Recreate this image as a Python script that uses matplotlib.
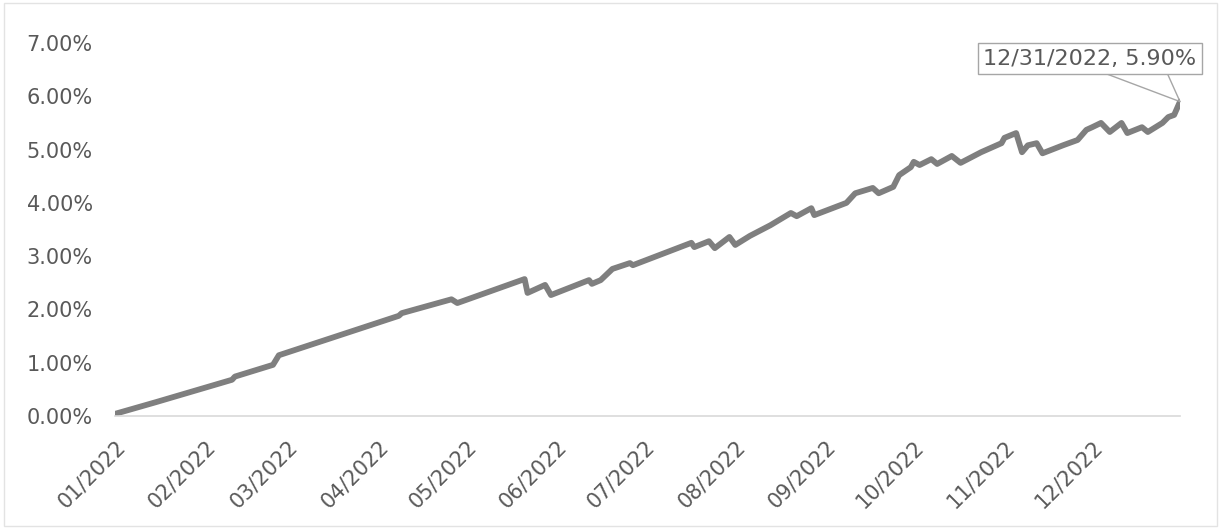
import matplotlib
matplotlib.use("Agg")
import matplotlib.pyplot as plt
import matplotlib.dates as mdates
from matplotlib.ticker import FuncFormatter
from matplotlib.patches import Rectangle
import pandas as pd

# cumulative return (in %)
dates = [
    "2022-01-01", "2022-01-15", "2022-02-10", "2022-02-11", "2022-02-24", "2022-02-26",
    "2022-04-08", "2022-04-09", "2022-04-26", "2022-04-28", "2022-05-21", "2022-05-22",
    "2022-05-28", "2022-05-30", "2022-06-12", "2022-06-13", "2022-06-16", "2022-06-20",
    "2022-06-26", "2022-06-27", "2022-07-17", "2022-07-18", "2022-07-23", "2022-07-25",
    "2022-07-30", "2022-08-01", "2022-08-06", "2022-08-13", "2022-08-20", "2022-08-22",
    "2022-08-27", "2022-08-28", "2022-09-08", "2022-09-11", "2022-09-17", "2022-09-19",
    "2022-09-24", "2022-09-26", "2022-09-30", "2022-10-01", "2022-10-03", "2022-10-07",
    "2022-10-09", "2022-10-14", "2022-10-17", "2022-10-24", "2022-10-31", "2022-11-01",
    "2022-11-05", "2022-11-07", "2022-11-09", "2022-11-12", "2022-11-14", "2022-11-21",
    "2022-11-26", "2022-11-29", "2022-12-01", "2022-12-04", "2022-12-07", "2022-12-11",
    "2022-12-13", "2022-12-18", "2022-12-20", "2022-12-25", "2022-12-27", "2022-12-29",
    "2022-12-31",
]
returns = [
    0.04, 0.26, 0.68, 0.74, 0.96, 1.14,
    1.88, 1.93, 2.19, 2.12, 2.57, 2.31,
    2.46, 2.27, 2.55, 2.48, 2.55, 2.76,
    2.87, 2.83, 3.25, 3.17, 3.28, 3.15,
    3.36, 3.21, 3.38, 3.58, 3.81, 3.75,
    3.90, 3.77, 4.00, 4.18, 4.28, 4.18,
    4.30, 4.52, 4.67, 4.77, 4.71, 4.82,
    4.73, 4.88, 4.75, 4.95, 5.12, 5.22,
    5.31, 4.95, 5.08, 5.12, 4.93, 5.08,
    5.18, 5.37, 5.42, 5.50, 5.33, 5.50,
    5.31, 5.42, 5.33, 5.50, 5.61, 5.65,
    5.90,
]
month_ticks = pd.date_range("2022-01-01", "2022-12-01", freq="MS")
y_ticks = [0, 1, 2, 3, 4, 5, 6, 7]

x = pd.to_datetime(dates)
text_col = "#595959"
box_col = "#a6a6a6"

fig = plt.figure(figsize=(12.21, 5.29), dpi=100)
ax = fig.add_axes([115 / 1221, 1 - 416 / 529, (1180 - 115) / 1221, (416 - 43) / 529])

ax.plot(x, returns, color="#7f7f7f", lw=4.2, solid_joinstyle="round", solid_capstyle="round")

ax.set_xlim(pd.Timestamp("2022-01-01"), pd.Timestamp("2022-12-31"))
ax.set_ylim(0, 7)
ax.set_yticks(y_ticks)
ax.yaxis.set_major_formatter(FuncFormatter(lambda v, p: f"{v:.2f}%"))
ax.set_xticks(month_ticks)
ax.xaxis.set_major_formatter(mdates.DateFormatter("%m/%Y"))

for s in ["top", "right", "left"]:
    ax.spines[s].set_visible(False)
ax.spines["bottom"].set_color("#d9d9d9")
ax.spines["bottom"].set_linewidth(1.2)
ax.tick_params(axis="both", length=0, colors=text_col, labelsize=15)
ax.tick_params(axis="y", pad=16)
ax.tick_params(axis="x", pad=15)
plt.setp(ax.get_xticklabels(), rotation=45, ha="right", rotation_mode="anchor")

# callout on last point: two leader lines + boxed label
last = (x[-1], returns[-1])
for dx in (-53, -9):
    ax.annotate("", xy=last, xytext=(dx, 20), textcoords="offset points",
                arrowprops=dict(arrowstyle="-", color=box_col, lw=1, shrinkA=0, shrinkB=0))
ax.annotate(f"12/31/2022, {returns[-1]:.2f}%", xy=last,
            xytext=(-65, 31), textcoords="offset points", ha="center", va="center",
            fontsize=16, color=text_col,
            bbox=dict(boxstyle="square,pad=0.25", fc="white", ec=box_col, lw=1))

# chart border
fig.patches.append(Rectangle((0.003, 0.005), 0.994, 0.99, transform=fig.transFigure,
                             fill=False, ec="#e3e3e3", lw=1))

fig.savefig("out.png", dpi=100)
